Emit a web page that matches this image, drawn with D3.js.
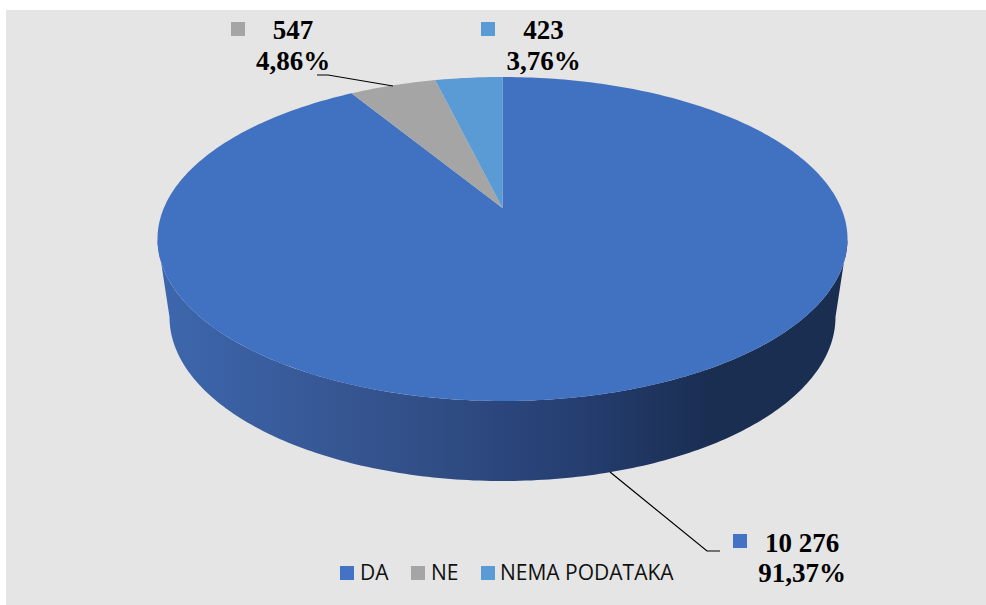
<!DOCTYPE html>
<html><head><meta charset="utf-8">
<script src="https://cdn.jsdelivr.net/npm/d3@7"></script>
<style>html,body{margin:0;padding:0;background:#fff}svg{display:block}</style></head>
<body><svg id="c" width="986" height="605"></svg>
<script>
const categories = ["DA","NE","NEMA PODATAKA"];
const values = [10276,547,423];
const percents = ["91,37%","4,86%","3,76%"];
const countLabels = ["10 276","547","423"];
const colors = ["#4472c4","#a5a5a5","#5b9bd5"];
const topColor = "#4171c1";
const sideStops = [[0,"#3d67ae"],[0.3,"#35548f"],[0.6,"#263f72"],[0.8,"#1a2e52"],[1,"#1a2e52"]];

const svg = d3.select("#c");
svg.append("rect").attr("x",6).attr("y",10).attr("width",980).attr("height",595).attr("fill","#e5e5e5");

const cx=502.5, cy=239, rx=345, ry=162, botCy=317, botRx=333, botRy=164, apexY=208, persp=0.83;
const defs = svg.append("defs");
const grad = defs.append("linearGradient").attr("id","side").attr("gradientUnits","userSpaceOnUse")
  .attr("x1",cx-rx).attr("x2",cx+rx).attr("y1",0).attr("y2",0);
sideStops.forEach(s=>grad.append("stop").attr("offset",s[0]).attr("stop-color",s[1]));

// A half-angle warp reproduces the perspective of the tilted disc.
const warp = a => 2*Math.atan(persp*Math.tan(a/2));
const arcs = d3.pie().sort(null).value(d=>d).startAngle(0).endAngle(2*Math.PI)(values);
const pt=(a,r0,r1,y0)=>[cx+r0*Math.sin(a), y0-r1*Math.cos(a)];
const steps=d3.range(0,181);

const wall = d3.path();
steps.forEach((i,k)=>{const a=Math.PI/2+Math.PI*i/180;const p=pt(a,rx,ry,cy);k?wall.lineTo(p[0],p[1]):wall.moveTo(p[0],p[1]);});
steps.slice().reverse().forEach(i=>{const a=Math.PI/2+Math.PI*i/180;const p=pt(a,botRx,botRy,botCy);wall.lineTo(p[0],p[1]);});
wall.closePath();
svg.append("path").attr("d",wall.toString()).attr("fill","url(#side)");

arcs.forEach((d,i)=>{
  const p=d3.path();p.moveTo(cx,apexY);
  const n=Math.max(8,Math.ceil((d.endAngle-d.startAngle)*60));
  d3.range(n+1).forEach(k=>{
    const t=d.startAngle+(d.endAngle-d.startAngle)*k/n;
    const a=warp(t);
    const q=pt(a,rx,ry,cy);p.lineTo(q[0],q[1]);
  });
  p.closePath();
  svg.append("path").attr("d",p.toString()).attr("fill",i===0?topColor:colors[i]);
});

const leaders=[[[610,472],[707,551],[720,551]],[[317,75],[328,75],[393,86]]];
const line=d3.line();
leaders.forEach(l=>svg.append("path").attr("d",line(l)).attr("fill","none").attr("stroke","#000").attr("stroke-width",1.2));

const labelPos=[{sx:733,sy:534,cxT:802,y1:552,y2:582},{sx:231,sy:22,cxT:293,y1:39,y2:70},{sx:481,sy:22,cxT:543.5,y1:39,y2:70}];
labelPos.forEach((l,i)=>{
  svg.append("rect").attr("x",l.sx).attr("y",l.sy).attr("width",14).attr("height",14).attr("fill",colors[i]);
  [[l.y1,countLabels[i]],[l.y2,percents[i]]].forEach(t=>
    svg.append("text").attr("x",l.cxT).attr("y",t[0]).attr("text-anchor","middle").attr("font-family","Liberation Serif").attr("font-weight","bold").attr("font-size",27).attr("fill","#000").text(t[1]));
});

const legendX=[340,411,481], legendText=[360,431,500];
categories.forEach((c,i)=>{
  svg.append("rect").attr("x",legendX[i]).attr("y",566).attr("width",14).attr("height",14).attr("fill",colors[i]);
  svg.append("text").attr("x",legendText[i]).attr("y",580).attr("font-family","Open Sans").attr("font-size",21).attr("fill","#111").text(c);
});
</script></body></html>
